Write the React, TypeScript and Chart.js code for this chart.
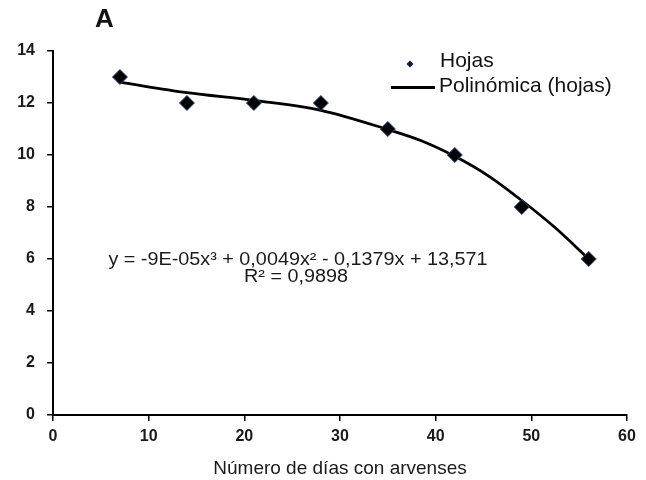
import React, { useEffect, useRef } from "react";
import { Chart, registerables } from "chart.js";

Chart.register(...registerables);

const daysX = [7, 14, 21, 28, 35, 42, 49, 56];
const leaves = [13, 12, 12, 12, 11, 10, 8, 6];
const trendX = [7, 14, 21, 28, 35, 38.5, 42, 45.5, 49, 52.5, 56];
const trendY = [12.8, 12.4, 12.1, 11.72, 10.98, 10.55, 9.95, 9.2, 8.25, 7.2, 6.0];
const seriesLabel = "Hojas";
const trendLabel = "Polinómica (hojas)";
const xTitle = "Número de días con arvenses";
const panelLabel = "A";
const equation = "y = -9E-05x³ + 0,0049x² - 0,1379x + 13,571";
const rSquared = "R² = 0,9898";

const FONT = "'Liberation Sans', Arial, sans-serif";

function stretchedText(ctx: any, text: string, x: number, y: number, sx: number, align: string) {
  ctx.save();
  ctx.translate(x, y);
  ctx.scale(sx, 1);
  ctx.textAlign = align;
  ctx.fillText(text, 0, 0);
  ctx.restore();
}

const overlay = {
  id: "overlay",
  afterDraw(chart: any) {
    const ctx = chart.ctx;
    ctx.save();
    ctx.fillStyle = "#111";
    ctx.textBaseline = "middle";
    ctx.font = `bold 26px ${FONT}`;
    ctx.textAlign = "left";
    ctx.fillText(panelLabel, 95, 20);

    // legend
    ctx.font = `21px ${FONT}`;
    ctx.fillStyle = "#111";
    ctx.fillText(seriesLabel, 440, 61);
    ctx.fillText(trendLabel, 439, 86);
    ctx.beginPath();
    ctx.moveTo(410, 60.5);
    ctx.lineTo(413.5, 64);
    ctx.lineTo(410, 67.5);
    ctx.lineTo(406.5, 64);
    ctx.closePath();
    ctx.fillStyle = "#0a1a33";
    ctx.fill();
    ctx.strokeStyle = "#000";
    ctx.lineWidth = 3;
    ctx.beginPath();
    ctx.moveTo(391, 87.5);
    ctx.lineTo(435, 87.5);
    ctx.stroke();

    // equation
    ctx.fillStyle = "#1a1a1a";
    ctx.font = `18px ${FONT}`;
    stretchedText(ctx, equation, 298, 260, 1.1, "center");
    stretchedText(ctx, rSquared, 296, 277, 1.1, "center");
    ctx.restore();
  },
};

export default function App() {
  const ref = useRef<HTMLCanvasElement | null>(null);
  useEffect(() => {
    if (!ref.current) return;
    const chart = new Chart(ref.current, {
      type: "scatter",
      data: {
        datasets: [
          {
            type: "line",
            label: trendLabel,
            data: trendX.map((x, i) => ({ x, y: trendY[i] })),
            borderColor: "#000",
            borderWidth: 2.8,
            pointRadius: 0,
            cubicInterpolationMode: "monotone",
            fill: false,
            order: 2,
          } as any,
          {
            type: "scatter",
            label: seriesLabel,
            data: daysX.map((x, i) => ({ x, y: leaves[i] })),
            pointStyle: "rectRot",
            pointRadius: 7.5,
            backgroundColor: "#000",
            borderColor: "#2a4a80",
            borderWidth: 1,
            order: 1,
          } as any,
        ],
      },
      options: {
        responsive: false,
        animation: false,
        layout: { padding: { left: 0, top: 51, right: 19, bottom: 0 } },
        plugins: {
          legend: { display: false },
          tooltip: { enabled: false },
        },
        scales: {
          x: {
            type: "linear",
            min: 0,
            max: 60,
            ticks: {
              stepSize: 10,
              color: "#1a1a1a",
              font: { family: FONT, size: 16, weight: "bold" },
              padding: 6,
              maxRotation: 0,
            },
            grid: {
              display: true,
              drawOnChartArea: false,
              drawTicks: true,
              tickLength: 6,
              color: "#000",
              lineWidth: 1.5,
            },
            border: { display: true, color: "#000", width: 2 },
            title: {
              display: true,
              text: xTitle,
              color: "#1a1a1a",
              font: { family: FONT, size: 19 },
              padding: { top: 7, bottom: 0 },
            },
            afterFit: (s: any) => {
              s.height = 65;
            },
          },
          y: {
            type: "linear",
            min: 0,
            max: 14,
            ticks: {
              stepSize: 2,
              color: "#1a1a1a",
              font: { family: FONT, size: 16, weight: "bold" },
              padding: 12,
            },
            grid: {
              display: true,
              drawOnChartArea: false,
              drawTicks: true,
              tickLength: 6,
              color: "#000",
              lineWidth: 1.5,
            },
            border: { display: true, color: "#000", width: 2 },
            afterFit: (s: any) => {
              s.width = 53;
            },
          },
        },
      },
      plugins: [overlay],
    } as any);
    return () => chart.destroy();
  }, []);
  return (
    <div style={{ position: "fixed", left: 0, top: 0, width: 646, height: 480, background: "#fff" }}>
      <canvas ref={ref} width={646} height={480} />
    </div>
  );
}
